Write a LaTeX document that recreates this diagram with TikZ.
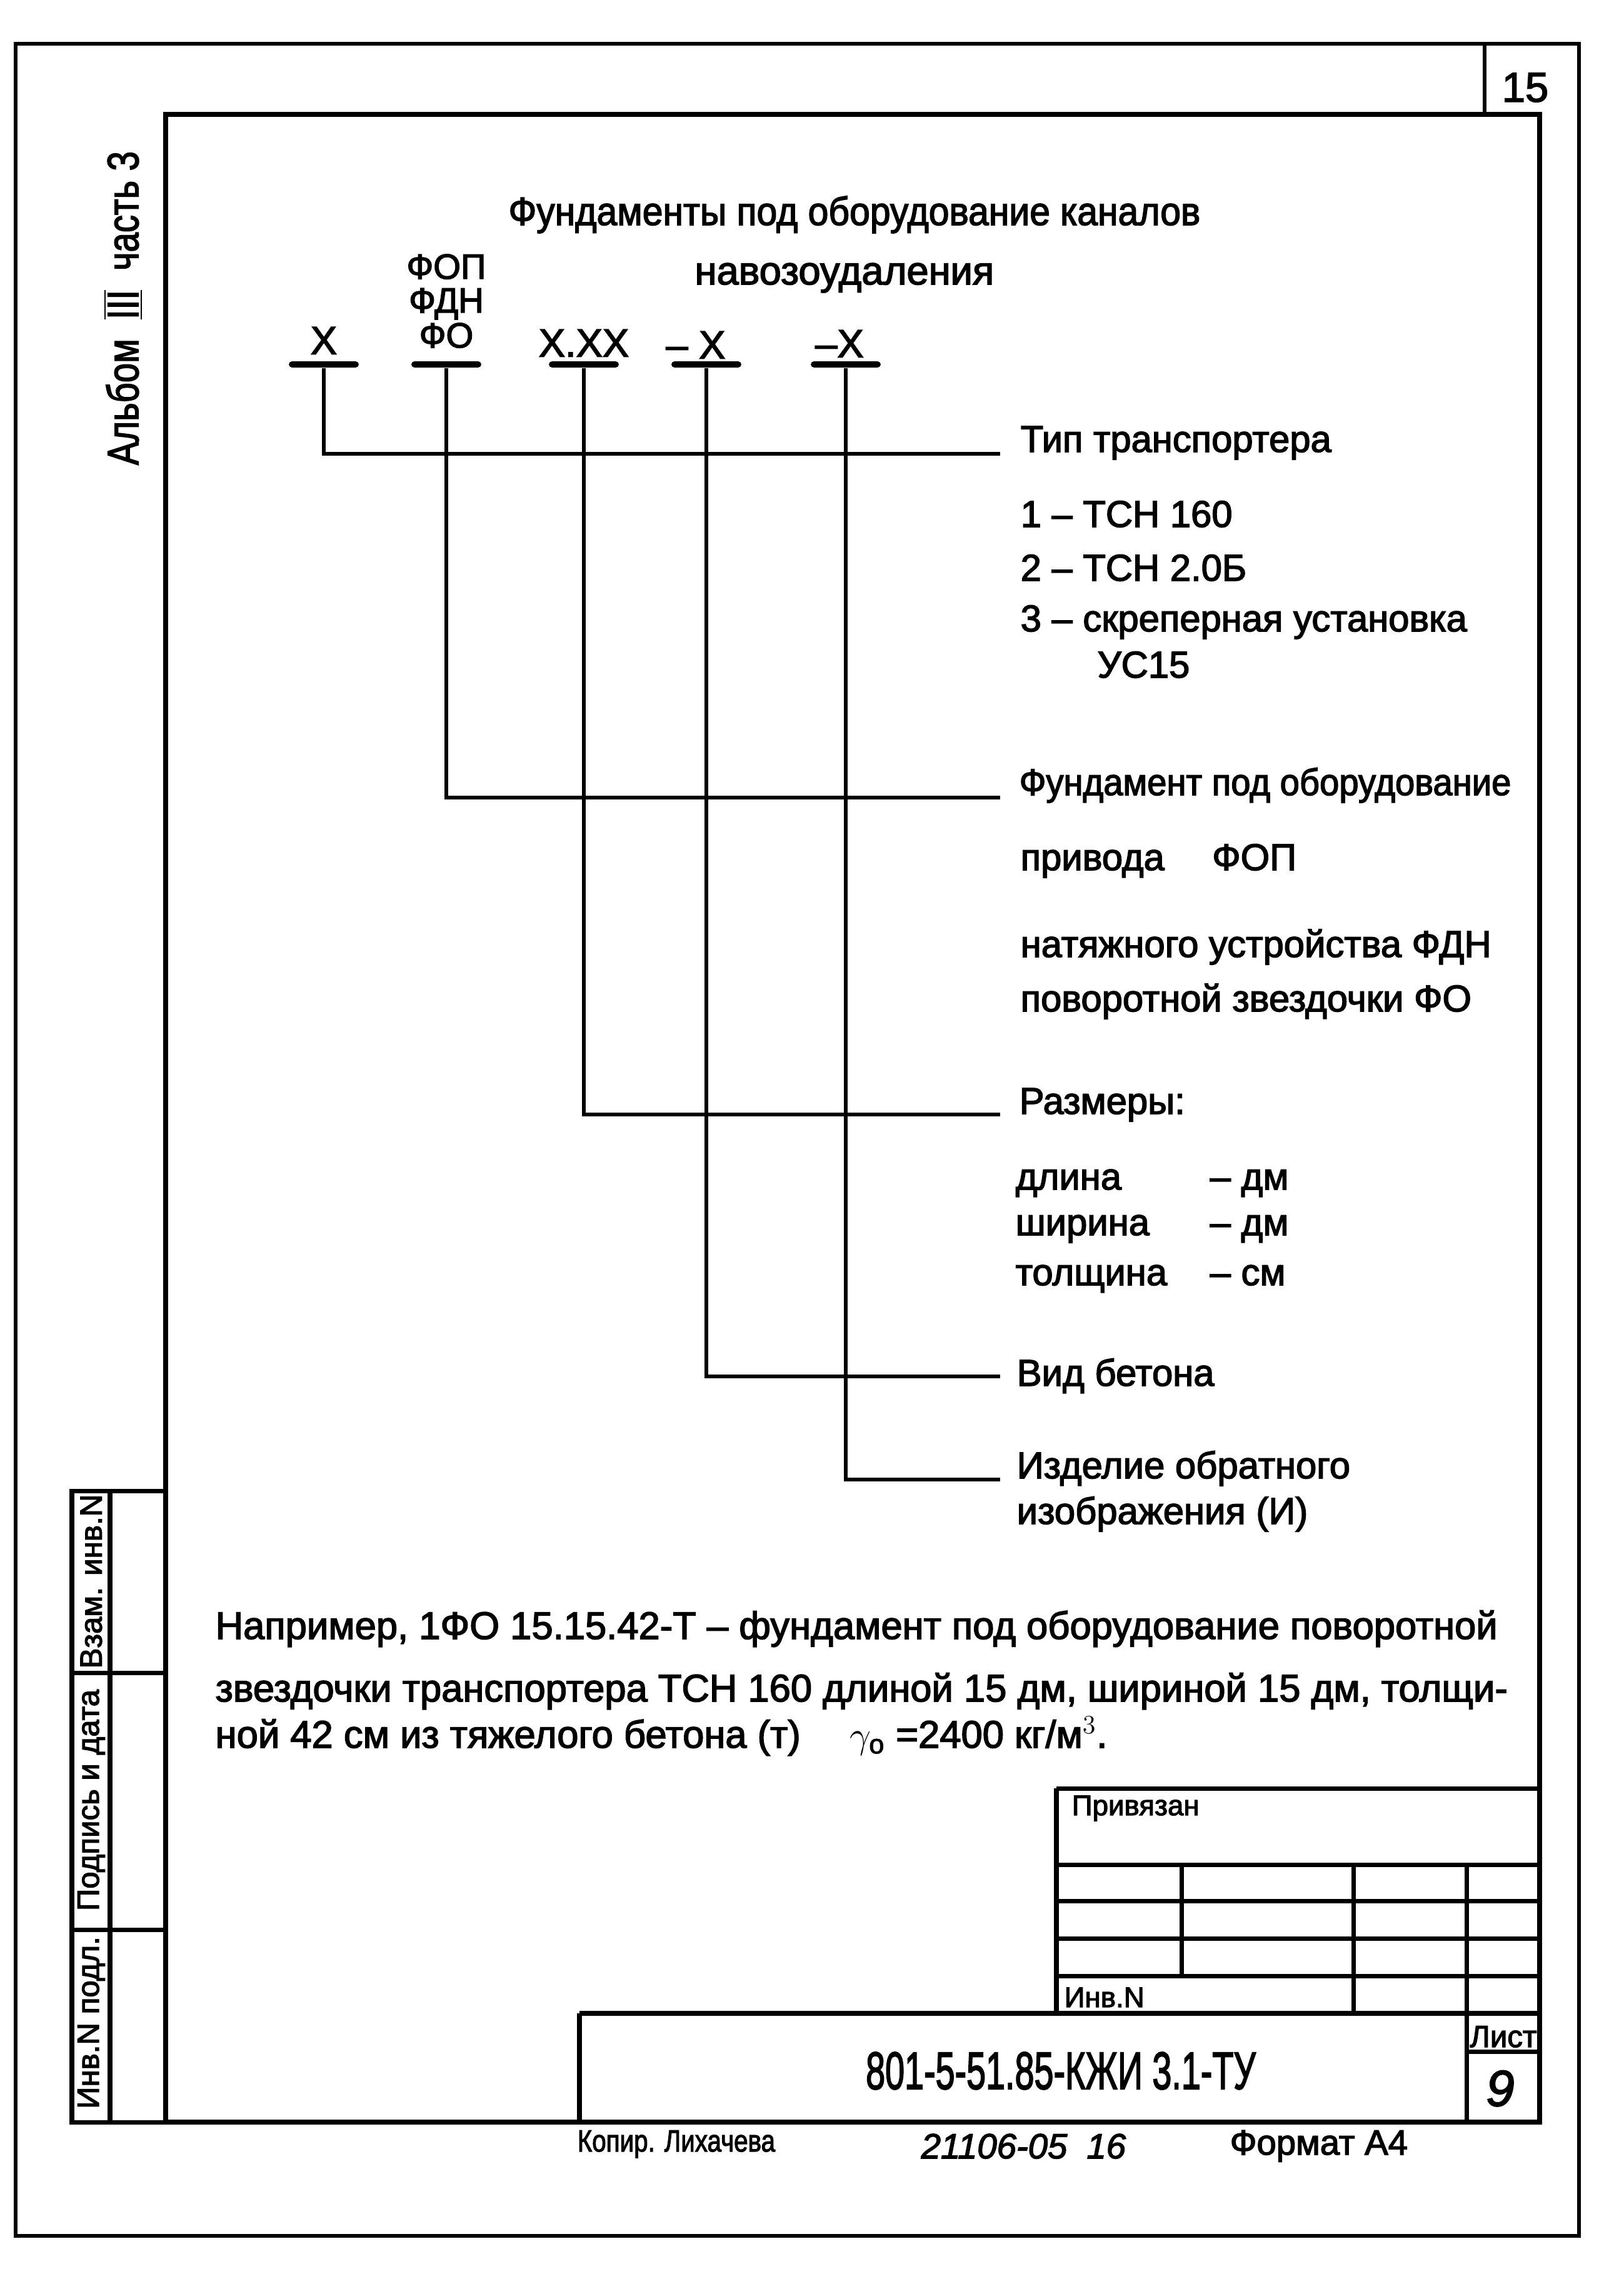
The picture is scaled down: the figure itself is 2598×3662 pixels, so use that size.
\documentclass[tikz,border=0pt]{standalone}
\usepackage{fontspec}
\setmainfont{Liberation Sans}[FakeBold=2.5]
\usetikzlibrary{positioning}

\newcommand{\fsz}[1]{\fontsize{#1}{#1}\selectfont}

\begin{document}
\begin{tikzpicture}[x=0.01cm, y=-0.01cm,
    outer/.style={line width=1.7pt},
    frame/.style={line width=2.4pt},
    grid/.style={line width=2pt},
    lead/.style={line width=1.7pt},
    bar/.style={fill=black, rounded corners=1.5pt, minimum width=1.12cm, minimum height=0.1cm, inner sep=0pt},
    code/.style={inner sep=0pt, font=\fsz{18}},
    lbl/.style={anchor=base west, inner sep=0pt, font=\fsz{17}},
    note/.style={anchor=base west, inner sep=0pt, font=\fsz{17.5}},
    side/.style={rotate=90, inner sep=0pt, font=\fsz{14}},
    small/.style={anchor=base west, inner sep=0pt, font=\fsz{13}}
  ]
  \useasboundingbox (0,0) rectangle (2598,3662);

  % sheet frame
  \draw[outer] (25,70) rectangle (2526,3577);
  \draw[frame] (265,183) rectangle (2463,3395);
  \draw[outer] (2375,70) -- (2375,183);
  \node[font=\fsz{19}] (sheet) at (2440,140) {15};
  \node[side, font=\fsz{20}] (album) at (197,493) {\scalebox{0.8}[1]{Альбом \ $\overline{\underline{\mbox{III}}}$ \ часть 3}};

  % left stamp
  \draw[grid] (115,2385) rectangle (265,3395);
  \draw[grid] (176,2385) -- (176,3395);
  \draw[grid] (115,2676) -- (265,2676);
  \draw[grid] (115,3087) -- (265,3087);
  \node[side] (vzam) at (146,2530) {Взам. инв.N};
  \node[side] (podp) at (146,2880) {Подпись и дата};
  \node[side] (invp) at (146,3236) {Инв.N подл.};

  % heading
  \node[font=\fsz{18}, anchor=base] (title) at (1367,360) {\scalebox{0.93}[1]{Фундаменты под оборудование каналов}};
  \node[font=\fsz{18}, anchor=base] (title2) at (1351,455) {навозоудаления};

  % code parts
  \node[bar] (b1) at (518,583) {};
  \node[bar] (b2) at (714,583) {};
  \node[bar] (b3) at (934,583) {};
  \node[bar] (b4) at (1130,583) {};
  \node[bar] (b5) at (1353,583) {};
  \node[code, above=0.1cm of b1] (k1) {X};
  \node[code, anchor=base, font=\fsz{16}] (k2) at (714,556) {ФО};
  \node[code, anchor=base, font=\fsz{16}] (k2n) at (714,500) {ФДН};
  \node[code, anchor=base, font=\fsz{16}] (k2p) at (714,446) {ФОП};
  \node[code, above=0.06cm of b3] (k3) {X.XX};
  \node[code, above=0.03cm of b4, xshift=-0.17cm] (k4) {– X};
  \node[code, above=0.05cm of b5, xshift=-0.1cm] (k5) {–X};

  % explanations
  \coordinate (e1) at (1600,726);
  \coordinate (e2) at (1600,1276);
  \coordinate (e3) at (1600,1783);
  \coordinate (e4) at (1600,2202);
  \coordinate (e5) at (1600,2367);

  \node[lbl] (l1) at (1632,723) {Тип транспортера};
  \node[lbl] (l1a) at (1632,843) {1 – ТСН 160};
  \node[lbl] (l1b) at (1632,929) {2 – ТСН 2.0Б};
  \node[lbl] (l1c) at (1632,1010) {3 – скреперная установка};
  \node[lbl] (l1d) at (1755,1084) {УС15};

  \node[lbl] (l2) at (1630,1272) {\scalebox{0.94}[1]{Фундамент под оборудование}};
  \node[lbl] (l2a) at (1632,1392) {привода \quad ФОП};
  \node[lbl] (l2b) at (1632,1531) {натяжного устройства ФДН};
  \node[lbl] (l2c) at (1632,1618) {поворотной звездочки ФО};

  \node[lbl] (l3) at (1630,1782) {Размеры:};
  \node[lbl] (l3a) at (1624,1903) {длина};
  \node[lbl] (l3b) at (1624,1976) {ширина};
  \node[lbl] (l3c) at (1624,2056) {толщина};
  \node[lbl] (u3a) at (1935,1903) {– дм};
  \node[lbl] (u3b) at (1935,1976) {– дм};
  \node[lbl] (u3c) at (1935,2056) {– см};

  \node[lbl] (l4) at (1626,2217) {Вид бетона};
  \node[lbl] (l5) at (1626,2365) {Изделие обратного};
  \node[lbl] (l5a) at (1626,2438) {изображения (И)};

  \draw[lead] (b1.south) |- (e1);
  \draw[lead] (b2.south) |- (e2);
  \draw[lead] (b3.south) |- (e3);
  \draw[lead] (b4.south) |- (e4);
  \draw[lead] (b5.south) |- (e5);

  % example
  \node[note] (ex1) at (344,2622) {Например, 1ФО 15.15.42-Т – фундамент под оборудование поворотной};
  \node[note] (ex2) at (344,2722) {звездочки транспортера ТСН 160 длиной 15 дм, шириной 15 дм, толщи-};
  \node[note] (ex3) at (344,2796) {ной 42 см из тяжелого бетона (т) \quad $\gamma_{\mathrm{o}}$ =2400 кг/м$^3$.};

  % title block
  \draw[grid] (1690,2861) -- (2463,2861);
  \draw[grid] (1690,2861) -- (1690,3221);
  \foreach \y in {2983,3041,3101,3161}
    \draw[grid] (1690,\y) -- (2463,\y);
  \draw[grid] (1890,2983) -- (1890,3161);
  \foreach \x in {2165,2346}
    \draw[grid] (\x,2983) -- (\x,3221);
  \draw[frame] (927,3221) -- (2463,3221);
  \draw[frame] (927,3221) -- (927,3395);
  \draw[grid] (2346,3221) -- (2346,3395);
  \draw[grid] (2346,3282) -- (2463,3282);

  \node[small] (priv) at (1714,2904) {Привязан};
  \node[small] (inv) at (1702,3211) {Инв.N};
  \node[anchor=base, inner sep=0pt, font=\fsz{24}] (doc) at (1697,3342) {\scalebox{0.66}[1]{801-5-51.85-КЖИ 3.1-ТУ}};
  \node[anchor=base, inner sep=0pt, font=\fsz{14}] (list) at (2405,3275) {Лист};
  \node[anchor=base, inner sep=0pt, font=\fsz{23}\itshape] (listno) at (2400,3369) {9};

  % below the frame
  \node[small, font=\fsz{14}] (kopir) at (923,3442) {\scalebox{0.82}[1]{Копир. Лихачева}};
  \node[small, font=\fsz{16}\itshape] (num) at (1473,3453) {21106-05\ \ 16};
  \node[small, font=\fsz{16}] (fmt) at (1967,3447) {Формат А4};
\end{tikzpicture}
\end{document}
